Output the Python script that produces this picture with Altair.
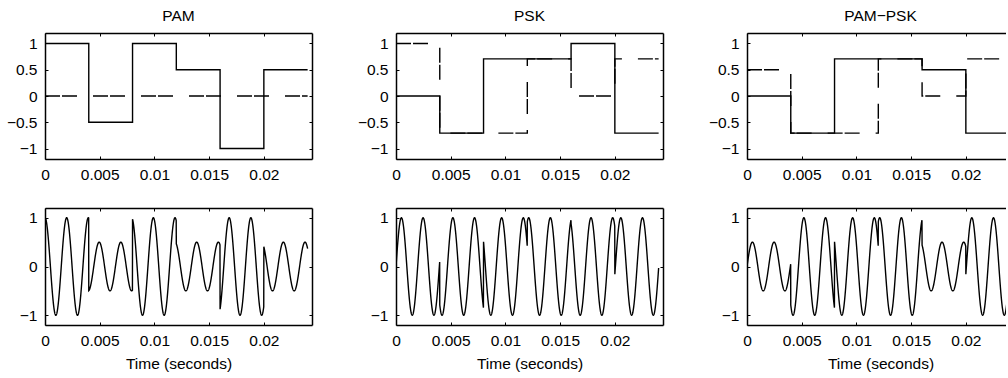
import altair as alt
import numpy as np
import pandas as pd

# ---------------- values ----------------
symbol_starts = [0.0, 0.004, 0.008, 0.012, 0.016, 0.020]
signal_end = 0.024
carrier_hz = 505.0
r = 0.707
pam_inphase = [1.0, -0.5, 1.0, 0.5, -1.0, 0.5]
pam_quadrature = [0.0, 0.0, 0.0, 0.0, 0.0, 0.0]
psk_inphase = [0.0, -r, r, r, 1.0, -r]
psk_quadrature = [1.0, -r, -r, r, 0.0, r]
pampsk_inphase = [0.0, -r, r, r, 0.5, -r]
pampsk_quadrature = [0.5, -r, -r, r, 0.0, r]
panel_titles = ["PAM", "PSK", "PAM\u2212PSK"]
x_tick_values = [0, 0.005, 0.01, 0.015, 0.02]
y_ticks_upper = [-1, -0.5, 0, 0.5, 1]
y_ticks_lower = [-1, 0, 1]
x_axis_max = 0.0244
y_axis_lim = 1.2
x_title = "Time (seconds)"
sample_step = 0.00001

# ---------------- styling ----------------
FONT = "Liberation Sans"
FS = 15.5
W = 267
W3 = 259
H_TOP = 126
H_BOT = 117
LW = 1.4
FRAME_W = 1.5
DASH = [15, 2, 15, 16]


def step_frame(inph, quad):
    t = symbol_starts + [signal_end]
    return pd.DataFrame({"t": t, "I": inph + [inph[-1]], "Q": quad + [quad[-1]]})


def wave_frame(inph, quad):
    n = int(round(signal_end / sample_step))
    t = np.arange(n + 1) * sample_step
    idx = np.searchsorted(np.array(symbol_starts), t + 1e-12, side="right") - 1
    a = np.array(inph)[idx]
    b = np.array(quad)[idx]
    w = 2 * np.pi * carrier_hz * t
    return pd.DataFrame({"t": t, "s": a * np.cos(w) + b * np.sin(w)})


def x_scale(w):
    return alt.Scale(domain=[0, x_axis_max * w / W], nice=False, zero=False)


y_scale = alt.Scale(domain=[-y_axis_lim, y_axis_lim], nice=False, zero=False)


def lab_x(title):
    kw = dict(orient="bottom", values=x_tick_values, format="~g", ticks=False, tickSize=0,
              grid=False, domain=True, domainColor="black", domainWidth=FRAME_W,
              labelFont=FONT, labelFontSize=FS, labelColor="black", labelPadding=8,
              labelFlush=False, labelOverlap=False, minExtent=30, maxExtent=30)
    if title:
        kw.update(title=title, titleFont=FONT, titleFontSize=FS, titleFontWeight="normal",
                  titleColor="black", titlePadding=1.5, titleX=W / 2)
    else:
        kw["title"] = None
    return alt.Axis(**kw)


def lab_y(vals):
    return alt.Axis(orient="left", values=vals, format="~g", ticks=False, tickSize=0, grid=False,
                    domain=True, domainColor="black", domainWidth=FRAME_W,
                    labelFont=FONT, labelFontSize=FS, labelColor="black", labelPadding=8,
                    labelFlush=False, labelOverlap=False, minExtent=44, maxExtent=44, title=None)


def in_x(orient, h, domain):
    return alt.Axis(orient=orient, offset=-h, values=x_tick_values, labels=False, ticks=True,
                    tickSize=3, tickColor="black", tickWidth=1, grid=False, domain=domain,
                    domainColor="black", domainWidth=FRAME_W, title=None,
                    minExtent=0, maxExtent=0)


def in_y(orient, w, vals, domain):
    return alt.Axis(orient=orient, offset=-w, values=vals, labels=False, ticks=True,
                    tickSize=3, tickColor="black", tickWidth=1, grid=False, domain=domain,
                    domainColor="black", domainWidth=FRAME_W, title=None,
                    minExtent=0, maxExtent=0)


def top_panel(k, inph, quad):
    w = W3 if k == 2 else W
    xs = x_scale(w)
    base = alt.Chart(step_frame(inph, quad))
    solid = base.mark_line(interpolate="step-after", color="black", strokeWidth=LW, clip=True).encode(
        x=alt.X("t:Q", scale=xs, axis=lab_x(None)),
        y=alt.Y("I:Q", scale=y_scale, axis=lab_y(y_ticks_upper)))
    dashed = base.mark_line(interpolate="step-after", color="black", strokeWidth=LW,
                            strokeDash=DASH, clip=True).encode(
        x=alt.X("t:Q", scale=xs, axis=in_x("bottom", H_TOP, True)),
        y=alt.Y("Q:Q", scale=y_scale,
                axis=(in_y("left", w, y_ticks_upper, True) if k < 2 else None)))
    ghost = base.mark_line(opacity=0, clip=True).encode(
        x=alt.X("t:Q", scale=xs, axis=in_x("top", H_TOP, False)),
        y=alt.Y("I:Q", scale=y_scale, axis=in_y("right", w, y_ticks_upper, False)))
    return alt.layer(solid, dashed, ghost).resolve_axis(x="independent", y="independent").properties(
        width=w, height=H_TOP,
        title=alt.TitleParams(text=panel_titles[k], font=FONT, fontSize=FS, fontWeight="normal",
                              color="black", frame="group", anchor="middle", offset=8,
                              dx=(W - W3) / 2 if k == 2 else 0))


def bottom_panel(k, inph, quad):
    w = W3 if k == 2 else W
    xs = x_scale(w)
    base = alt.Chart(wave_frame(inph, quad))
    line = base.mark_line(color="black", strokeWidth=LW, clip=True).encode(
        x=alt.X("t:Q", scale=xs, axis=lab_x(x_title)),
        y=alt.Y("s:Q", scale=y_scale, axis=lab_y(y_ticks_lower)))
    g1 = base.mark_line(opacity=0, clip=True).encode(
        x=alt.X("t:Q", scale=xs, axis=in_x("bottom", H_BOT, True)),
        y=alt.Y("s:Q", scale=y_scale,
                axis=(in_y("left", w, y_ticks_lower, True) if k < 2 else None)))
    g2 = base.mark_line(opacity=0, clip=True).encode(
        x=alt.X("t:Q", scale=xs, axis=in_x("top", H_BOT, False)),
        y=alt.Y("s:Q", scale=y_scale, axis=in_y("right", w, y_ticks_lower, False)))
    return alt.layer(line, g1, g2).resolve_axis(x="independent", y="independent").properties(
        width=w, height=H_BOT)


signals = [(pam_inphase, pam_quadrature), (psk_inphase, psk_quadrature),
           (pampsk_inphase, pampsk_quadrature)]

panels = [top_panel(k, *signals[k]) for k in range(3)] + \
         [bottom_panel(k, *signals[k]) for k in range(3)]

chart = alt.concat(*panels, columns=3, spacing={"row": 18, "column": 39}, align="each").properties(
    padding={"left": 1, "top": 9, "right": 0, "bottom": 0},
    background="white",
).configure_view(strokeWidth=0)

chart.save("out.html", embed_options={"renderer": "svg", "actions": False})
